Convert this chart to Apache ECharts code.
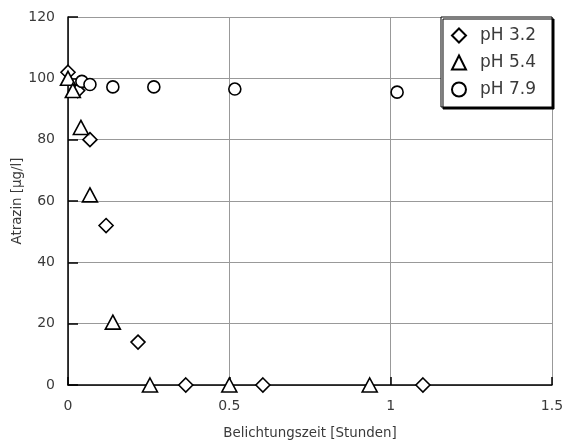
<!DOCTYPE html>
<html>
<head>
<meta charset="utf-8">
<script src="https://cdn.jsdelivr.net/npm/echarts@6/dist/echarts.min.js"></script>
<style>
  html, body { margin: 0; padding: 0; background: #fff; }
  #chart { width: 566px; height: 444px; }
</style>
</head>
<body>
<div id="chart"></div>
<script>
// Atrazin concentration over exposure time at three pH values
const seriesNames = ['pH 3.2', 'pH 5.4', 'pH 7.9'];

// [time in hours, atrazin in µg/l]
const ph32 = [
  [0, 102], [0.03, 96], [0.068, 80], [0.118, 52], [0.217, 14],
  [0.365, 0], [0.604, 0], [1.1, 0]
];
const ph54 = [
  [0, 100], [0.015, 96], [0.04, 84], [0.068, 62], [0.139, 20.5],
  [0.254, 0], [0.5, 0], [0.935, 0]
];
const ph79 = [
  [0.043, 99], [0.068, 98], [0.139, 97.2], [0.266, 97.2],
  [0.517, 96.5], [1.02, 95.5]
];

const xTicks = [0, 0.5, 1, 1.5];
const yTicks = [0, 20, 40, 60, 80, 100, 120];

const font = 'DejaVu Sans, Verdana, sans-serif';
const textColor = '#3a3a3a';

const chart = echarts.init(document.getElementById('chart'), null, { renderer: 'canvas' });

function scatter(name, data, symbol, size) {
  return {
    name: name,
    type: 'scatter',
    data: data,
    symbol: symbol,
    symbolSize: size,
    itemStyle: { color: '#fff', borderColor: '#000', borderWidth: 1.6, opacity: 1 },
    emphasis: { disabled: true },
    z: 3
  };
}

chart.setOption({
  animation: false,
  backgroundColor: '#fff',
  grid: {
    left: 68, right: 14, top: 17, bottom: 59,
    containLabel: false,
    outerBoundsMode: 'none'
  },
  legend: {
    data: [
      { name: seriesNames[0], icon: 'diamond' },
      { name: seriesNames[1], icon: 'triangle' },
      { name: seriesNames[2], icon: 'circle' }
    ],
    orient: 'vertical',
    right: 14,
    top: 17,
    itemWidth: 14,
    itemHeight: 14,
    itemGap: 10,
    padding: [10, 16, 9, 10],
    backgroundColor: '#fff',
    borderColor: '#000',
    borderWidth: 1,
    shadowColor: '#000',
    shadowBlur: 0,
    shadowOffsetX: 2,
    shadowOffsetY: 2,
    textStyle: { fontFamily: font, fontSize: 17, color: textColor, padding: [0, 0, 0, 9] },
    selectedMode: false
  },
  xAxis: {
    type: 'value',
    min: xTicks[0],
    max: xTicks[xTicks.length - 1],
    interval: 0.5,
    name: 'Belichtungszeit [Stunden]',
    nameLocation: 'middle',
    nameGap: 42,
    nameTextStyle: { fontFamily: font, fontSize: 13.4, color: textColor },
    axisLine: { show: true, onZero: false, lineStyle: { color: '#000', width: 1.5 } },
    axisTick: { show: true, inside: true, length: 8, lineStyle: { color: '#000', width: 1.5 } },
    axisLabel: {
      fontFamily: font, fontSize: 14, color: textColor, margin: 14,
      formatter: v => String(v)
    },
    splitLine: { show: true, lineStyle: { color: '#999', width: 1 } }
  },
  yAxis: {
    type: 'value',
    min: yTicks[0],
    max: yTicks[yTicks.length - 1],
    interval: 20,
    name: 'Atrazin [µg/l]',
    nameLocation: 'middle',
    nameGap: 44,
    nameMoveOverlap: false,
    nameTextStyle: { fontFamily: font, fontSize: 13.4, color: textColor },
    axisLine: { show: true, onZero: false, lineStyle: { color: '#000', width: 1.5 } },
    axisTick: { show: true, inside: true, length: 10, lineStyle: { color: '#000', width: 1.5 } },
    axisLabel: { fontFamily: font, fontSize: 14, color: textColor, margin: 13 },
    splitLine: { show: true, lineStyle: { color: '#999', width: 1 } }
  },
  series: [
    scatter(seriesNames[0], ph32, 'diamond', [14, 14]),
    scatter(seriesNames[1], ph54, 'triangle', [15, 14]),
    scatter(seriesNames[2], ph79, 'circle', 12)
  ]
});
</script>
</body>
</html>
